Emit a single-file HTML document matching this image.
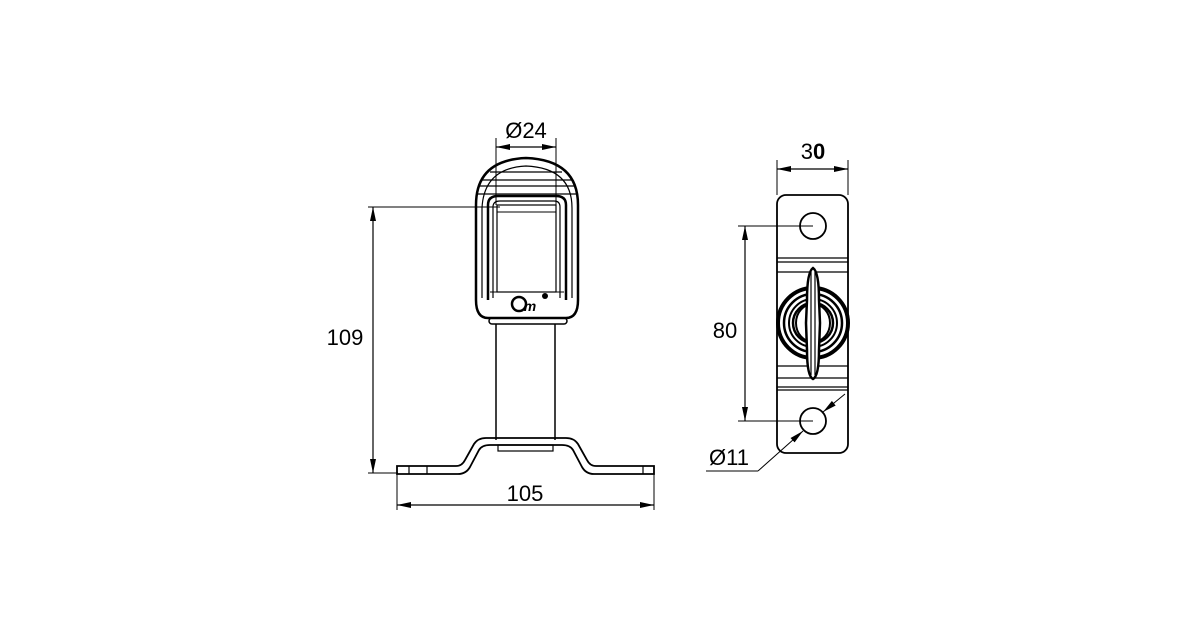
<!DOCTYPE html>
<html><head><style>html,body{margin:0;padding:0;background:#fff}svg{display:block}</style></head>
<body>
<svg width="1200" height="638" viewBox="0 0 1200 638" xmlns="http://www.w3.org/2000/svg" font-family="'Liberation Sans',sans-serif">
<defs>
<marker id="a" markerWidth="14" markerHeight="8" refX="14" refY="4" orient="auto-start-reverse" markerUnits="userSpaceOnUse"><path d="M0,1 L14,4 L0,7 Z" fill="#000"/></marker>
</defs>
<g fill="none" stroke="#000" stroke-width="1.5">
<line x1="496" y1="138" x2="496" y2="205" stroke-width="1"/>
<line x1="556" y1="138" x2="556" y2="205" stroke-width="1"/>
<line x1="496" y1="147" x2="556" y2="147" marker-start="url(#a)" marker-end="url(#a)" stroke-width="1.2"/>
<path d="M476,300 L476,205 Q476,160 526,158 Q578,160 578,205 L578,300 Q578,318 566,318 L488,318 Q476,318 476,300 Z" stroke-width="2.5"/>
<path d="M482,298 L482,208 Q484,168 526,166 Q572,168 572,208 L572,298" stroke-width="1.2"/>
<line x1="490" y1="172" x2="562" y2="172" stroke-width="1.2"/>
<line x1="482" y1="180" x2="572" y2="180" stroke-width="1.2"/>
<line x1="479" y1="186" x2="575" y2="186" stroke-width="1.2"/>
<line x1="477" y1="194" x2="577" y2="194" stroke-width="1.2"/>
<path d="M488,300 L488,205 Q488,196 498,196 L556,196 Q566,196 566,205 L566,300" stroke-width="2.5"/>
<path d="M493,298 L493,207 Q493,201 500,201 L554,201 Q560,201 560,207 L560,298" stroke-width="1.2"/>
<rect x="497" y="205" width="59" height="87" stroke-width="1.2"/>
<line x1="497" y1="212" x2="556" y2="212" stroke-width="1"/>
<line x1="490" y1="292" x2="564" y2="292" stroke-width="1"/>
<rect x="489" y="318" width="78" height="6" rx="3" stroke-width="1.5"/>
<circle cx="519" cy="304" r="7" stroke-width="2.5"/>
<text x="530" y="311" font-size="14" font-weight="bold" font-style="italic" fill="#000" stroke="none" text-anchor="middle">m</text>
<circle cx="545" cy="296" r="3" fill="#000" stroke="none"/>
<line x1="496" y1="324" x2="496" y2="440"/>
<line x1="555" y1="324" x2="555" y2="440"/>
<path d="M397,466 L456,466 Q462,466 465,460 L474,444 Q478,438 486,438 L566,438 Q574,438 578,444 L587,460 Q590,466 596,466 L654,466 L654,474 L594,474 Q586,474 582,467 L573,450 Q570,445 562,445 L490,445 Q482,445 479,450 L470,467 Q466,474 458,474 L397,474 Z" stroke-width="1.8"/>
<line x1="409" y1="466" x2="409" y2="474" stroke-width="1.2"/>
<line x1="427" y1="466" x2="427" y2="474" stroke-width="1.2"/>
<line x1="643" y1="466" x2="643" y2="474" stroke-width="1.2"/>
<rect x="498" y="445" width="55" height="6" stroke-width="1.2"/>
<line x1="368" y1="207" x2="500" y2="207" stroke-width="1"/>
<line x1="368" y1="473" x2="398" y2="473" stroke-width="1"/>
<line x1="373" y1="207" x2="373" y2="473" marker-start="url(#a)" marker-end="url(#a)" stroke-width="1.2"/>
<line x1="397" y1="474" x2="397" y2="510" stroke-width="1"/>
<line x1="654" y1="474" x2="654" y2="510" stroke-width="1"/>
<line x1="397" y1="505" x2="654" y2="505" marker-start="url(#a)" marker-end="url(#a)" stroke-width="1.2"/>

<line x1="777" y1="160" x2="777" y2="195" stroke-width="1"/>
<line x1="848" y1="160" x2="848" y2="195" stroke-width="1"/>
<line x1="777" y1="169" x2="848" y2="169" marker-start="url(#a)" marker-end="url(#a)" stroke-width="1.2"/>
<rect x="777" y="195" width="71" height="258" rx="9" stroke-width="1.8"/>
<circle cx="813" cy="226" r="13" stroke-width="1.8"/>
<circle cx="813" cy="421" r="13" stroke-width="1.8"/>
<line x1="777" y1="258" x2="848" y2="258" stroke-width="1.2"/>
<line x1="777" y1="262" x2="848" y2="262" stroke-width="1.2"/>
<line x1="777" y1="272" x2="848" y2="272" stroke-width="1.2"/>
<line x1="777" y1="366" x2="848" y2="366" stroke-width="1.2"/>
<line x1="777" y1="378" x2="848" y2="378" stroke-width="1.2"/>
<line x1="777" y1="387" x2="848" y2="387" stroke-width="1.2"/>
<line x1="777" y1="390" x2="848" y2="390" stroke-width="1.2"/>
<circle cx="813" cy="323" r="35" stroke-width="4"/>
<circle cx="813" cy="323" r="29" stroke-width="2.5"/>
<circle cx="813" cy="323" r="24" stroke-width="2"/>
<circle cx="813" cy="323" r="20" stroke-width="2.5"/>
<ellipse cx="813" cy="323" rx="17" ry="19" fill="#fff" stroke-width="2"/>
<path d="M813,268 Q807,272 807,300 L806,323 L807,350 Q807,376 813,379 Q819,376 819,350 L820,323 L819,300 Q819,272 813,268 Z" fill="#fff" stroke-width="2.5"/>
<line x1="811" y1="272" x2="811" y2="375" stroke-width="1.2"/>
<line x1="815" y1="272" x2="815" y2="375" stroke-width="1.2"/>
<line x1="738" y1="226" x2="813" y2="226" stroke-width="1"/>
<line x1="738" y1="421" x2="813" y2="421" stroke-width="1"/>
<line x1="745" y1="226" x2="745" y2="421" marker-start="url(#a)" marker-end="url(#a)" stroke-width="1.2"/>
<line x1="706" y1="471" x2="758" y2="471" stroke-width="1"/>
<line x1="758" y1="471" x2="803" y2="431" stroke-width="1" marker-end="url(#a)"/>
<line x1="845" y1="394" x2="823" y2="412" stroke-width="1" marker-end="url(#a)"/>
</g>
<g fill="#000" font-size="22" text-anchor="middle">
<text x="526" y="138">Ø24</text>
<text x="345" y="345">109</text>
<text x="525" y="501">105</text>
<text x="725" y="338">80</text>
<text x="729" y="465">Ø11</text>
<text x="813" y="159">3<tspan font-weight="bold">0</tspan></text>
</g>
</svg>
</body></html>
